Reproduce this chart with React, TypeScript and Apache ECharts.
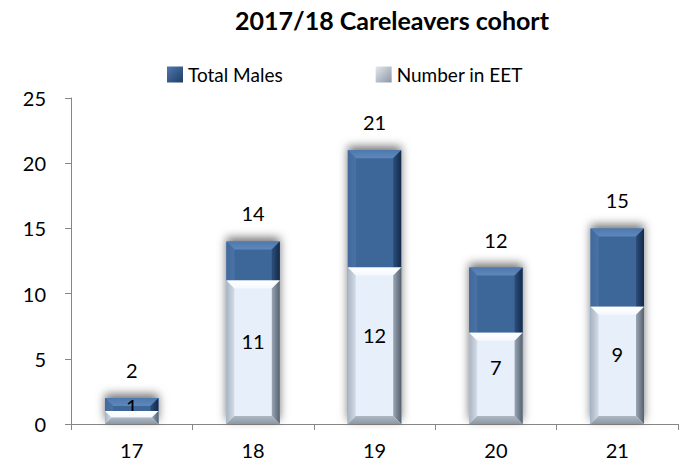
import React, { useEffect, useRef } from "react";
import * as echarts from "echarts";

const categories = ["17", "18", "19", "20", "21"];
const totalMales = [2, 14, 21, 12, 15];
const numberInEET = [1, 11, 12, 7, 9];
const titleText = "2017/18 Careleavers cohort";
const seriesNames = ["Total Males", "Number in EET"];

const FONT = "Lato, 'Open Sans', sans-serif";
const BAR_RATIO = 0.44;

type Pal = { top: any; left: any; right: any; bottom: any };

const lg = (x: number, y: number, x2: number, y2: number, c1: string, c2: string) =>
  new echarts.graphic.LinearGradient(x, y, x2, y2, [
    { offset: 0, color: c1 },
    { offset: 1, color: c2 },
  ]);

const darkPal: Pal = {
  top: lg(0, 0, 0, 1, "#4E79AE", "#5E88BC"),
  left: lg(0, 0, 1, 0, "#43699C", "#4A72A5"),
  right: lg(0, 0, 1, 0, "#2C4E7A", "#13294A"),
  bottom: lg(0, 0, 0, 1, "#2F527F", "#203E64"),
};
const lightPal: Pal = {
  top: lg(0, 0, 0, 1, "#FFFFFF", "#F4F8FD"),
  left: lg(0, 0, 1, 0, "#A9B5C3", "#D3DCE7"),
  right: lg(0, 0, 1, 0, "#9AA6B5", "#56616E"),
  bottom: lg(0, 0, 0, 1, "#AEB8C4", "#8D98A6"),
};

function bevelRenderer(pal: Pal) {
  return (params: any, api: any) => {
    const idx = api.value(0);
    const v = api.value(1);
    const top = api.coord([idx, v]);
    const base = api.coord([idx, 0]);
    const bw = api.size([1, 0])[0] * BAR_RATIO;
    const x0 = top[0] - bw / 2;
    const x1 = top[0] + bw / 2;
    const y0 = top[1];
    const y1 = base[1];
    const b = Math.min(8, (y1 - y0) / 2, bw / 2);
    const poly = (pts: number[][], fill: any) => ({
      type: "polygon",
      shape: { points: pts },
      style: { fill },
      silent: true,
    });
    return {
      type: "group",
      children: [
        poly([[x0, y0], [x1, y0], [x1 - b, y0 + b], [x0 + b, y0 + b]], pal.top),
        poly([[x0, y0], [x0 + b, y0 + b], [x0 + b, y1 - b], [x0, y1]], pal.left),
        poly([[x1, y0], [x1, y1], [x1 - b, y1 - b], [x1 - b, y0 + b]], pal.right),
        poly([[x0, y1], [x0 + b, y1 - b], [x1 - b, y1 - b], [x1, y1]], pal.bottom),
      ],
    };
  };
}

export default function App() {
  const ref = useRef<HTMLDivElement>(null);
  useEffect(() => {
    if (!ref.current) return;
    const chart = echarts.init(ref.current, null, { renderer: "svg" });
    const labelStyle = { color: "#000", fontSize: 20, fontFamily: FONT };
    chart.setOption({
      animation: false,
      backgroundColor: "#fff",
      title: {
        text: titleText,
        left: 387,
        textAlign: "center",
        top: 2,
        textStyle: { fontFamily: FONT, fontWeight: "bold", fontSize: 25, color: "#000" },
      },
      legend: {
        top: 60,
        left: 162,
        itemWidth: 16,
        itemHeight: 16,
        itemGap: 93,
        icon: "rect",
        data: [
          {
            name: seriesNames[0],
            itemStyle: { color: lg(0, 0, 1, 1, "#4F79AD", "#1F3D66") },
          },
          {
            name: seriesNames[1],
            itemStyle: { color: lg(0, 0, 1, 1, "#E2E8EF", "#8C96A3") },
          },
        ],
        textStyle: { fontFamily: FONT, fontSize: 19, color: "#000" },
      },
      grid: { left: 71, right: 8, top: 98, bottom: 49, containLabel: false },
      xAxis: {
        type: "category",
        data: categories,
        axisLine: { lineStyle: { color: "#868686", width: 1 } },
        axisTick: { show: true, alignWithLabel: false, length: 6, lineStyle: { color: "#868686" } },
        axisLabel: { ...labelStyle, margin: 16 },
      },
      yAxis: {
        type: "value",
        min: 0,
        max: 25,
        interval: 5,
        axisLine: { show: true, lineStyle: { color: "#868686", width: 1 } },
        axisTick: { show: true, length: 6, lineStyle: { color: "#868686" } },
        splitLine: { show: false },
        axisLabel: { ...labelStyle, margin: 25 },
      },
      series: [
        {
          name: seriesNames[0],
          type: "bar",
          data: totalMales,
          barWidth: `${BAR_RATIO * 100}%`,
          barGap: "-100%",
          z: 2,
          itemStyle: {
            color: "#3C6699",
            shadowBlur: 10,
            shadowColor: "rgba(0,0,0,0.55)",
            shadowOffsetY: -4,
          },
          label: { show: true, position: "top", distance: 18, ...labelStyle },
        },
        {
          name: seriesNames[1],
          type: "bar",
          data: numberInEET,
          barWidth: `${BAR_RATIO * 100}%`,
          barGap: "-100%",
          z: 4,
          itemStyle: { color: "#E6EFFA" },
          label: { show: true, position: "inside", offset: [0, -11], ...labelStyle },
        },
        {
          name: "bevelTotal",
          type: "custom",
          data: totalMales.map((v, i) => [i, v]),
          encode: { x: 0, y: 1 },
          renderItem: bevelRenderer(darkPal),
          z: 3,
          silent: true,
        },
        {
          name: "bevelEET",
          type: "custom",
          data: numberInEET.map((v, i) => [i, v]),
          encode: { x: 0, y: 1 },
          renderItem: bevelRenderer(lightPal),
          z: 5,
          silent: true,
        },
      ],
    });
    return () => chart.dispose();
  }, []);
  return (
    <div
      ref={ref}
      style={{ position: "fixed", left: 0, top: 0, width: 686, height: 473 }}
    />
  );
}
